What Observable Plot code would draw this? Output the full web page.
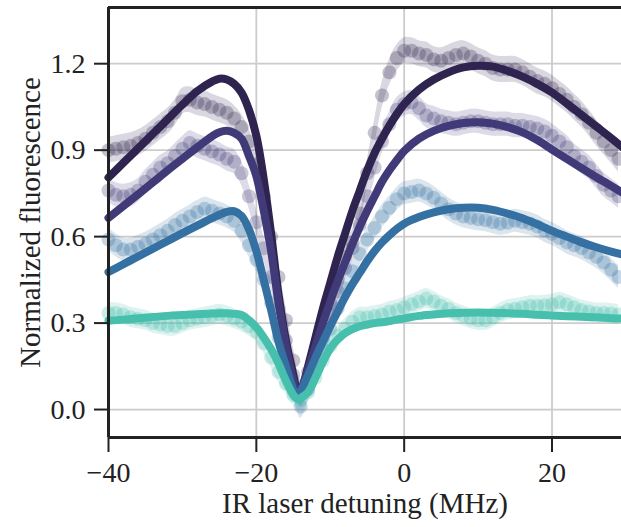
<!DOCTYPE html>
<html><head><meta charset="utf-8">
<script src="https://cdn.jsdelivr.net/npm/d3@7"></script>
<script src="https://cdn.jsdelivr.net/npm/@observablehq/plot@0.6"></script>
<style>body{margin:0;background:#fff} svg{font-family:"Liberation Serif",serif}</style>
</head><body><div id="chart"></div>
<script>
// Measured data (x in MHz, one value per MHz from -40 to 29)
const dataX = [-40,-39,-38,-37,-36,-35,-34,-33,-32,-31,-30,-29,-28,-27,-26,-25,-24,-23,-22,-21,-20,-19,-18,-17,-16,-15,-14,-13,-12,-11,-10,-9,-8,-7,-6,-5,-4,-3,-2,-1,0,1,2,3,4,5,6,7,8,9,10,11,12,13,14,15,16,17,18,19,20,21,22,23,24,25,26,27,28,29];
const dataA = [0.90,0.905,0.91,0.915,0.925,0.94,0.96,0.98,1.0,1.03,
  1.07,1.075,1.065,1.06,1.05,1.04,1.03,1.01,0.98,0.93,
  0.85,0.74,0.6,0.46,0.31,0.17,0.06,0.13,0.2,0.28,
  0.37,0.45,0.53,0.58,0.68,0.82,0.96,1.09,1.17,1.22,
  1.245,1.245,1.235,1.23,1.215,1.21,1.22,1.23,1.235,1.225,
  1.21,1.2,1.185,1.18,1.18,1.18,1.17,1.155,1.14,1.13,
  1.115,1.095,1.075,1.05,1.025,0.995,0.96,0.93,0.9,0.87];
const dataB = [0.76,0.745,0.74,0.745,0.76,0.79,0.815,0.84,0.855,0.88,
  0.905,0.925,0.915,0.905,0.895,0.885,0.87,0.86,0.82,0.74,
  0.65,0.56,0.46,0.35,0.24,0.12,0.05,0.1,0.17,0.25,
  0.33,0.41,0.49,0.56,0.64,0.74,0.84,0.93,0.99,1.04,
  1.06,1.065,1.045,1.02,1.01,1.0,0.995,0.99,0.995,1.0,
  1.0,0.995,0.99,0.99,0.99,0.985,0.985,0.98,0.975,0.965,
  0.95,0.93,0.91,0.88,0.86,0.84,0.81,0.78,0.76,0.74];
const dataC = [0.59,0.57,0.555,0.555,0.565,0.575,0.59,0.605,0.62,0.64,
  0.655,0.67,0.685,0.697,0.69,0.68,0.67,0.655,0.62,0.57,
  0.52,0.45,0.37,0.25,0.17,0.09,0.01,0.07,0.14,0.21,
  0.28,0.35,0.42,0.48,0.54,0.59,0.63,0.67,0.70,0.73,
  0.75,0.755,0.76,0.75,0.735,0.715,0.695,0.68,0.67,0.665,
  0.66,0.657,0.65,0.645,0.648,0.655,0.65,0.645,0.635,0.62,
  0.61,0.595,0.58,0.57,0.56,0.545,0.53,0.51,0.485,0.46];
const dataD = [0.335,0.335,0.33,0.32,0.315,0.31,0.3,0.295,0.29,0.29,
  0.3,0.31,0.315,0.32,0.325,0.33,0.325,0.315,0.305,0.29,
  0.27,0.23,0.18,0.13,0.09,0.05,0.035,0.06,0.11,0.17,
  0.22,0.255,0.28,0.305,0.32,0.32,0.325,0.33,0.34,0.345,
  0.355,0.365,0.375,0.385,0.375,0.36,0.35,0.335,0.325,0.315,
  0.31,0.31,0.32,0.335,0.345,0.35,0.355,0.36,0.36,0.362,
  0.365,0.372,0.365,0.355,0.345,0.34,0.335,0.335,0.333,0.33];
const dataErr = [0.045, 0.042, 0.04, 0.035];

// Fitted curves
const fitX = [-40,-38,-36,-34,-32,-30,-28,-26,-25,-24,-23,-22,-21,-20,-19,-18,-17,-16,-15,-14.5,-14.2,-14,-13,-12,-11,-10,-9,-8,-7,-6,-5,-4,-3,-2,-1,0,2,4,6,8,10,12,14,16,18,20,22,24,26,28,30];
const fitA = [0.805,0.856,0.906,0.957,1.007,1.058,1.105,1.138,1.148,1.145,1.13,1.1,1.04,0.95,0.8,0.61,0.4,0.24,0.12,0.06,0.04,0.05,0.15,0.25,0.35,0.44,0.53,0.61,0.69,0.76,0.83,0.89,0.94,0.985,1.025,1.06,1.11,1.145,1.17,1.187,1.193,1.19,1.175,1.155,1.13,1.1,1.062,1.022,0.982,0.942,0.9];
const fitB = [0.665,0.706,0.747,0.788,0.83,0.87,0.91,0.948,0.962,0.967,0.96,0.94,0.88,0.81,0.69,0.55,0.37,0.22,0.1,0.05,0.04,0.06,0.14,0.22,0.3,0.375,0.445,0.51,0.575,0.635,0.69,0.74,0.79,0.83,0.865,0.897,0.94,0.967,0.984,0.994,0.997,0.992,0.98,0.962,0.935,0.902,0.87,0.838,0.806,0.776,0.745];
const fitC = [0.477,0.504,0.531,0.558,0.585,0.612,0.638,0.664,0.676,0.686,0.688,0.672,0.625,0.55,0.45,0.345,0.235,0.15,0.07,0.045,0.04,0.06,0.12,0.18,0.235,0.29,0.34,0.39,0.435,0.475,0.515,0.55,0.58,0.605,0.627,0.645,0.668,0.684,0.695,0.7,0.7,0.693,0.68,0.664,0.643,0.62,0.6,0.58,0.563,0.548,0.535];
const fitD = [0.308,0.312,0.317,0.321,0.325,0.328,0.331,0.333,0.334,0.334,0.332,0.328,0.31,0.285,0.25,0.21,0.16,0.1,0.05,0.037,0.035,0.04,0.06,0.11,0.165,0.212,0.243,0.265,0.279,0.289,0.295,0.3,0.303,0.307,0.312,0.316,0.325,0.33,0.334,0.336,0.337,0.336,0.334,0.332,0.329,0.326,0.324,0.322,0.32,0.317,0.315];

const colors = ["#2f2350", "#413a78", "#3470a2", "#46bfad"];
const xTicks = [-40, -20, 0, 20];
const yTicks = [0.0, 0.3, 0.6, 0.9, 1.2];
const xLabel = "IR laser detuning (MHz)";
const yLabel = "Normalized fluorescence";

const dataSeries = [dataA, dataB, dataC, dataD];
const fitSeries = [fitA, fitB, fitC, fitD];
const xDomain = [-40, 29.4];
const yDomain = [-0.097, 1.395];

const marks = [
  Plot.gridX(xTicks, {stroke: "#cccccc", strokeOpacity: 1, strokeWidth: 1.8}),
  Plot.gridY(yTicks, {stroke: "#cccccc", strokeOpacity: 1, strokeWidth: 1.8})
];
dataSeries.forEach((vals, i) => {
  const rows = dataX.map((x, j) => ({x, y: vals[j], lo: vals[j] - dataErr[i], hi: vals[j] + dataErr[i]}));
  marks.push(Plot.areaY(rows, {x: "x", y1: "lo", y2: "hi", fill: colors[i], fillOpacity: 0.18, curve: "catmull-rom"}));
  marks.push(Plot.dot(rows, {x: "x", y: "y", r: 7, fill: colors[i], fillOpacity: 0.28, stroke: "none"}));
});
fitSeries.forEach((vals, i) => {
  const rows = fitX.map((x, j) => ({x, y: vals[j]}));
  marks.push(Plot.line(rows, {x: "x", y: "y", stroke: colors[i], strokeWidth: 8, curve: "catmull-rom"}));
});
marks.push(
  Plot.ruleX([xDomain[0]], {stroke: "#222", strokeWidth: 3}),
  Plot.ruleY([yDomain[0]], {stroke: "#222", strokeWidth: 3}),
  Plot.ruleY([yDomain[1]], {stroke: "#222", strokeWidth: 3}),
  Plot.axisX(xTicks, {tickSize: 15, tickPadding: 10, strokeWidth: 2, stroke: "#222", fontSize: 28, label: null, tickFormat: d3.format("d")}),
  Plot.axisY(yTicks, {tickSize: 14, tickPadding: 9, strokeWidth: 2, stroke: "#222", fontSize: 28, label: null, tickFormat: d3.format(".1f")}),
  Plot.text([xLabel], {frameAnchor: "bottom", dy: 75, fontSize: 29, fill: "#222"}),
  Plot.text([yLabel], {frameAnchor: "left", dx: -78, rotate: -90, textAnchor: "middle", fontSize: 29, fill: "#222"})
);

const chart = Plot.plot({
  width: 621, height: 527,
  marginLeft: 108, marginTop: 7, marginRight: 0, marginBottom: 90,
  x: {domain: xDomain},
  y: {domain: yDomain},
  style: {fontFamily: "Liberation Serif", background: "white", color: "#222"},
  marks
});
document.getElementById("chart").appendChild(chart);
</script></body></html>
